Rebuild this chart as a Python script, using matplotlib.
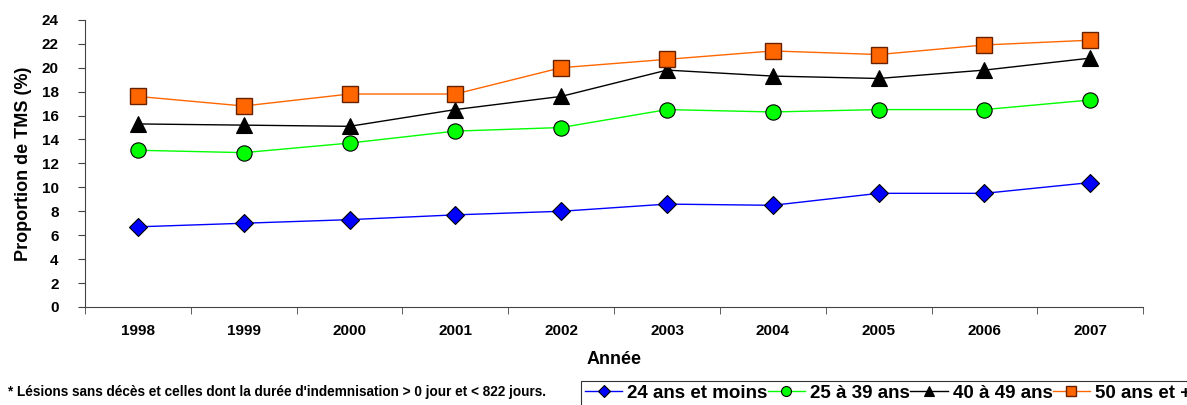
import matplotlib
matplotlib.use("Agg")
import matplotlib.pyplot as plt

plt.rcParams['font.family'] = ['Liberation Sans', 'DejaVu Sans']
plt.rcParams['font.weight'] = 'bold'

years = ['1998', '1999', '2000', '2001', '2002', '2003', '2004', '2005', '2006', '2007']
s24 = [6.7, 7.0, 7.3, 7.7, 8.0, 8.6, 8.5, 9.5, 9.5, 10.4]
s25_39 = [13.1, 12.9, 13.7, 14.7, 15.0, 16.5, 16.3, 16.5, 16.5, 17.3]
s40_49 = [15.3, 15.2, 15.1, 16.5, 17.6, 19.8, 19.3, 19.1, 19.8, 20.8]
s50 = [17.6, 16.8, 17.8, 17.8, 20.0, 20.7, 21.4, 21.1, 21.9, 22.3]
labels = ['24 ans et moins', '25 à 39 ans', '40 à 49 ans', '50 ans et +']
yticks = list(range(0, 25, 2))

fig = plt.figure(figsize=(11.87, 4.05), dpi=100)
ax = fig.add_axes([0.0716, 0.242, 0.8915, 0.709])
x = list(range(len(years)))

ax.plot(x, s24, color='#0000ff', lw=1, marker='D', ms=9, mfc='#0000ff', mec='black', mew=0.8, label=labels[0])
ax.plot(x, s25_39, color='#00ff00', lw=1, marker='o', ms=11, mfc='#00ff00', mec='black', mew=0.8, label=labels[1])
ax.plot(x, s40_49, color='black', lw=1, marker='^', ms=11, mfc='black', mec='black', mew=0.8, label=labels[2])
ax.plot(x, s50, color='#ff6600', lw=1, marker='s', ms=11, mfc='#ff6600', mec='#662200', mew=1.0, label=labels[3])

ax.set_xlim(-0.5, 9.5)
ax.set_ylim(0, 24)
ax.set_yticks(yticks)
ax.set_xticks(x)
ax.set_xticklabels(years, fontsize=11, fontweight='bold')
ax.set_xticks([i - 0.5 for i in range(11)], minor=True)
ax.tick_params(axis='x', which='major', length=0, pad=12.5)
ax.tick_params(axis='x', which='minor', length=5, direction='out', color='#444444')
ax.tick_params(axis='y', length=5, direction='out', labelsize=11, color='#444444', pad=14)
for lab in ax.get_yticklabels():
    lab.set_fontweight('bold')
ax.spines['top'].set_visible(False)
ax.spines['right'].set_visible(False)
ax.spines['left'].set_color('#444444')
ax.spines['bottom'].set_color('#444444')
ax.set_ylabel('Proportion de TMS (%)', fontsize=13, fontweight='bold', labelpad=7)
ax.set_xlabel('Année', fontsize=13, fontweight='bold', labelpad=9)

fig.text(0.007, 0.032, "* Lésions sans décès et celles dont la durée d'indemnisation > 0 jour et < 822 jours.",
         fontsize=9.85, fontweight='bold', va='center', ha='left')

leg = fig.legend(loc='upper left', bbox_to_anchor=(0.4895, 0.0593), ncol=4, frameon=True,
                 fancybox=False, edgecolor='black', borderaxespad=0, handlelength=2.0,
                 handletextpad=0.27, columnspacing=0.0, borderpad=0.2,
                 prop={'size': 13.5, 'weight': 'bold'}, markerscale=0.65)
leg.get_frame().set_linewidth(0.8)

fig.savefig('out.png', dpi=100)
